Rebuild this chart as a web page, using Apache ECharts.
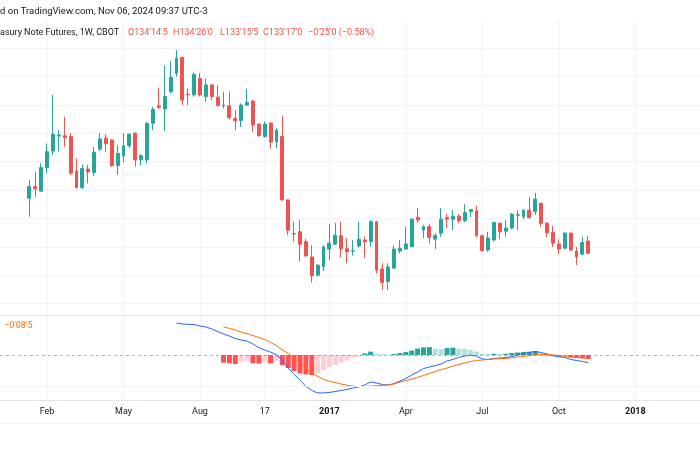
<!DOCTYPE html>
<html>
<head>
<meta charset="utf-8">
<title>Treasury Note Futures, 1W, CBOT</title>
<script src="https://cdn.jsdelivr.net/npm/echarts@6/dist/echarts.min.js"></script>
<style>
  html, body { margin: 0; padding: 0; background: #fff; }
  #chart { width: 700px; height: 450px; }
</style>
</head>
<body>
<div id="chart"></div>
<script>
// weekly bars, first category is 5 weeks before the first candle
var firstWeek = Date.UTC(2015, 11, 7);
var weekCount = 120;
var leadWeeks = 5;

// OHLC, one entry per week from 2016-01-11
var opens = [130.71, 131.12, 130.96, 131.79, 132.37, 132.90, 132.91, 132.88, 131.67, 131.08,
  131.74, 131.62, 132.44, 132.82, 132.76, 131.86, 132.21, 132.56, 133.00, 132.06,
  132.06, 133.35, 133.96, 133.85, 134.46, 135.11, 135.67, 134.37, 134.35, 134.93,
  134.29, 134.70, 134.27, 133.97, 133.96, 133.52, 133.45, 133.99, 134.13, 133.32,
  132.88, 133.35, 132.69, 132.88, 130.65, 129.45, 129.53, 129.18, 128.64, 128.00,
  128.30, 128.92, 129.09, 129.39, 128.93, 128.85, 129.03, 129.24, 129.18, 129.88,
  128.22, 127.77, 128.25, 128.85, 128.92, 129.01, 130.04, 129.59, 129.71, 129.27,
  129.48, 130.03, 129.97, 130.08, 129.92, 130.24, 130.27, 129.39, 128.89, 129.24,
  129.83, 129.55, 129.66, 130.11, 130.06, 130.29, 130.24, 130.53, 129.83, 129.51,
  129.09, 128.95, 129.48, 128.85, 128.74, 129.20];
var closes = [131.12, 131.04, 131.79, 132.35, 132.96, 132.94, 132.84, 131.59, 131.08, 131.76,
  131.64, 132.33, 132.80, 132.63, 131.86, 132.29, 132.56, 132.96, 132.06, 132.21,
  133.35, 133.84, 133.91, 134.29, 134.97, 135.64, 134.17, 134.35, 135.07, 134.35,
  134.70, 134.29, 133.98, 133.99, 133.54, 133.44, 133.99, 134.08, 133.29, 132.92,
  133.32, 132.69, 133.10, 130.65, 129.58, 129.47, 129.09, 128.68, 127.98, 128.35,
  129.00, 129.13, 129.41, 128.93, 128.83, 128.86, 129.27, 129.18, 129.88, 128.18,
  127.74, 128.29, 128.92, 128.95, 129.10, 129.97, 129.94, 129.71, 129.33, 129.40,
  129.97, 129.97, 130.08, 129.92, 130.21, 130.31, 129.39, 128.86, 129.31, 129.86,
  129.53, 129.66, 130.15, 130.13, 130.29, 130.03, 130.68, 129.83, 129.49, 129.13,
  128.92, 129.48, 128.89, 128.65, 129.15, 128.77];
var lows = [130.06, 130.76, 130.94, 131.59, 132.23, 132.35, 132.52, 131.53, 131.06, 131.04,
  131.24, 131.50, 132.37, 132.35, 131.81, 131.53, 131.98, 132.47, 131.82, 131.86,
  131.94, 133.11, 133.85, 133.08, 134.40, 134.99, 133.99, 133.99, 134.29, 134.29,
  134.11, 134.17, 133.93, 133.87, 133.48, 133.10, 133.22, 133.96, 133.05, 132.88,
  132.85, 132.46, 132.47, 130.62, 129.41, 129.18, 128.48, 128.65, 127.74, 127.96,
  128.15, 128.54, 129.06, 128.63, 128.42, 128.69, 128.97, 128.60, 129.00, 128.07,
  127.48, 127.48, 128.22, 128.77, 128.90, 128.98, 129.83, 129.31, 129.12, 128.92,
  129.35, 129.66, 129.59, 129.84, 129.87, 130.05, 129.35, 128.83, 128.82, 129.18,
  129.26, 129.36, 129.61, 129.59, 129.97, 129.99, 130.12, 129.71, 129.33, 128.99,
  128.74, 128.92, 128.85, 128.36, 128.71, 128.74];
var highs = [131.35, 131.64, 131.94, 132.64, 134.35, 133.11, 133.58, 133.00, 132.12, 131.90,
  131.88, 132.52, 133.00, 132.96, 132.79, 132.58, 133.00, 133.00, 133.03, 132.26,
  133.38, 133.93, 134.60, 135.38, 135.54, 135.93, 135.69, 134.58, 135.14, 135.11,
  134.93, 134.72, 134.68, 134.46, 134.47, 133.82, 134.05, 134.56, 134.17, 133.34,
  133.42, 133.40, 133.18, 133.60, 130.67, 129.88, 129.94, 129.28, 129.05, 128.39,
  129.05, 129.79, 129.84, 129.88, 129.31, 129.24, 129.88, 129.36, 129.94, 129.91,
  128.42, 128.42, 129.06, 129.24, 129.71, 130.01, 130.36, 129.77, 129.80, 129.48,
  130.36, 130.15, 130.30, 130.15, 130.50, 130.32, 130.44, 129.43, 129.53, 129.88,
  129.86, 129.94, 130.19, 130.28, 130.32, 130.76, 130.90, 130.56, 129.87, 129.73,
  129.27, 129.52, 129.50, 128.99, 129.35, 129.38];

// MACD pane (starts at candle 25 / 33)
var macdFrom = 25;
var macdLine = [2.58, 2.50, 2.47, 2.46, 2.34, 2.26, 2.10, 1.89, 1.69, 1.53,
  1.33, 1.21, 1.13, 0.89, 0.60, 0.40, 0.24, 0.00, -0.40, -1.05,
  -1.57, -2.02, -2.54, -2.86, -3.06, -3.06, -3.02, -2.94, -2.86, -2.78,
  -2.66, -2.58, -2.42, -2.18, -2.26, -2.38, -2.42, -2.30, -2.10, -1.89,
  -1.61, -1.37, -1.09, -0.97, -0.85, -0.73, -0.48, -0.36, -0.20, -0.08,
  -0.02, -0.08, -0.32, -0.36, -0.28, -0.24, -0.20, -0.12, 0.00, 0.12,
  0.20, 0.28, 0.20, 0.08, -0.06, -0.15, -0.20, -0.36, -0.44, -0.52,
  -0.62];
var signalFrom = 33;
var signalLine = [2.28, 2.14, 2.02, 1.85, 1.72, 1.57, 1.41, 1.25, 1.01, 0.77,
  0.40, 0.12, -0.24, -0.64, -1.09, -1.45, -1.73, -1.97, -2.12, -2.22,
  -2.34, -2.44, -2.51, -2.54, -2.55, -2.51, -2.48, -2.44, -2.42, -2.34,
  -2.18, -2.06, -1.93, -1.80, -1.65, -1.49, -1.33, -1.17, -1.05, -0.89,
  -0.77, -0.64, -0.52, -0.44, -0.40, -0.36, -0.32, -0.31, -0.27, -0.23,
  -0.16, -0.10, -0.05, 0.02, 0.06, 0.04, 0.00, -0.04, -0.10, -0.16,
  -0.20, -0.24, -0.27];
var histogram = [-0.62, -0.67, -0.73, -0.56, -0.48, -0.67, -0.69, -0.60, -0.67, -0.48,
  -0.81, -1.05, -1.29, -1.49, -1.57, -1.61, -1.47, -1.21, -0.99, -0.81,
  -0.62, -0.46, -0.24, -0.12, 0.12, 0.27, 0.12, 0.06, 0.04, 0.08,
  0.16, 0.24, 0.36, 0.52, 0.62, 0.64, 0.52, 0.48, 0.56, 0.59,
  0.52, 0.48, 0.40, 0.28, 0.12, 0.08, 0.10, 0.08, 0.10, 0.16,
  0.20, 0.24, 0.27, 0.32, 0.12, 0.02, -0.08, -0.12, -0.10, -0.20,
  -0.24, -0.26, -0.32];

// time axis labels
var tickDates = ['2016-02-01', '2016-05-02', '2016-08-01', '2016-10-17', '2017-01-02',
  '2017-04-03', '2017-07-03', '2017-10-02', '2018-01-01'];
var tickTexts = ['Feb', 'May', 'Aug', '17', '2017', 'Apr', 'Jul', 'Oct', '2018'];

var up = '#26a69a';
var down = '#ef5350';
var gridColor = '#f0f3fa';
var textColor = '#131722';

var categories = [];
for (var k = 0; k < weekCount; k++) {
  categories.push(new Date(firstWeek + k * 7 * 864e5).toISOString().slice(0, 10));
}

function isTick(index, value) {
  return tickDates.indexOf(value) >= 0;
}

var candles = opens.map(function (o, i) {
  return [leadWeeks + i, o, closes[i], lows[i], highs[i]];
});
var macdData = macdLine.map(function (v, i) {
  return [leadWeeks + macdFrom + i, v];
});
var signalData = signalLine.map(function (v, i) {
  return [leadWeeks + signalFrom + i, v];
});
var histData = histogram.map(function (v, i) {
  var prev = i > 0 ? histogram[i - 1] : 0;
  var color;
  if (v >= 0) {
    color = v > prev ? '#26a69a' : '#b2dfdb';
  } else {
    color = v < prev ? '#ff5252' : '#ffcdd2';
  }
  return {value: [leadWeeks + signalFrom + i, v], itemStyle: {color: color}};
});

function text(x, y, str, color, size, weight) {
  return {
    type: 'text', x: x, y: y, z: 20,
    style: {
      text: str, fill: color,
      font: (weight || 'normal') + ' ' + size + 'px Roboto, sans-serif',
      verticalAlign: 'middle'
    }
  };
}

var chart = echarts.init(document.getElementById('chart'));

chart.setOption({
  animation: false,
  backgroundColor: '#ffffff',
  grid: [
    {left: -2.5, width: 702.7, top: 19.6, height: 312.4},
    {left: -2.5, width: 702.7, top: 315, height: 85}
  ],
  xAxis: [
    {
      type: 'category', gridIndex: 0, data: categories, boundaryGap: false,
      axisLine: {show: false}, axisTick: {show: false}, axisLabel: {show: false},
      splitLine: {show: true, interval: isTick, lineStyle: {color: gridColor}}
    },
    {
      type: 'category', gridIndex: 1, data: categories, boundaryGap: false,
      axisLine: {show: true, onZero: false, lineStyle: {color: '#e0e3eb'}},
      axisTick: {show: false},
      axisLabel: {
        show: true, interval: isTick, margin: 7,
        color: textColor, fontSize: 9, fontFamily: 'Roboto',
        formatter: function (value) {
          var t = tickTexts[tickDates.indexOf(value)];
          return /^\d{4}$/.test(t) ? '{b|' + t + '}' : t;
        },
        rich: {b: {fontWeight: 'bold', fontSize: 9, fontFamily: 'Roboto', color: textColor}}
      },
      splitLine: {show: true, interval: isTick, lineStyle: {color: gridColor}}
    }
  ],
  yAxis: [
    {
      type: 'value', gridIndex: 0, min: 126, max: 137, interval: 1,
      axisLine: {show: false}, axisTick: {show: false}, axisLabel: {show: false},
      splitLine: {show: true, showMinLine: false, showMaxLine: false, lineStyle: {color: gridColor}}
    },
    {type: 'value', gridIndex: 1, min: -3.629, max: 3.226, show: false}
  ],
  series: [
    {
      type: 'candlestick', xAxisIndex: 0, yAxisIndex: 0,
      data: candles, encode: {x: 0, y: [1, 2, 3, 4]},
      barWidth: 3.4,
      itemStyle: {color: up, color0: down, borderColor: up, borderColor0: down, borderWidth: 1}
    },
    {
      type: 'bar', xAxisIndex: 1, yAxisIndex: 1, data: histData, barWidth: 5,
      markLine: {
        silent: true, symbol: 'none', label: {show: false},
        data: [
          {yAxis: 0, lineStyle: {type: [3, 3], color: 'rgba(120,123,134,0.6)', width: 1}},
          {yAxis: -2.5, lineStyle: {type: 'solid', color: gridColor, width: 1}}
        ]
      }
    },
    {
      type: 'line', xAxisIndex: 1, yAxisIndex: 1, data: macdData,
      showSymbol: false, lineStyle: {color: '#2962ff', width: 1}
    },
    {
      type: 'line', xAxisIndex: 1, yAxisIndex: 1, data: signalData,
      showSymbol: false, lineStyle: {color: '#ff6d00', width: 1}
    }
  ],
  graphic: [
    text(0, 12, 'd on TradingView.com, Nov 06, 2024 09:37 UTC-3', textColor, 9.5),
    text(0, 33, 'asury Note Futures, 1W, CBOT', textColor, 9),
    text(128, 33, "O134'14'5", down, 9),
    text(173, 33, "H134'26'0", down, 9),
    text(220, 33, "L133'15'5", down, 9),
    text(263, 33, "C133'17'0", down, 9),
    text(308, 33, "\u22120'25'0 (\u22120.58%)", down, 9),
    text(4, 326, "\u22120'08'5", '#ff6d00', 9),
    {type: 'line', z: 20, shape: {x1: 0, y1: 315.5, x2: 700, y2: 315.5}, style: {stroke: '#e0e3eb', lineWidth: 1}},
    {type: 'line', z: 20, shape: {x1: 0, y1: 423.5, x2: 700, y2: 423.5}, style: {stroke: gridColor, lineWidth: 1}}
  ]
});
</script>
</body>
</html>
